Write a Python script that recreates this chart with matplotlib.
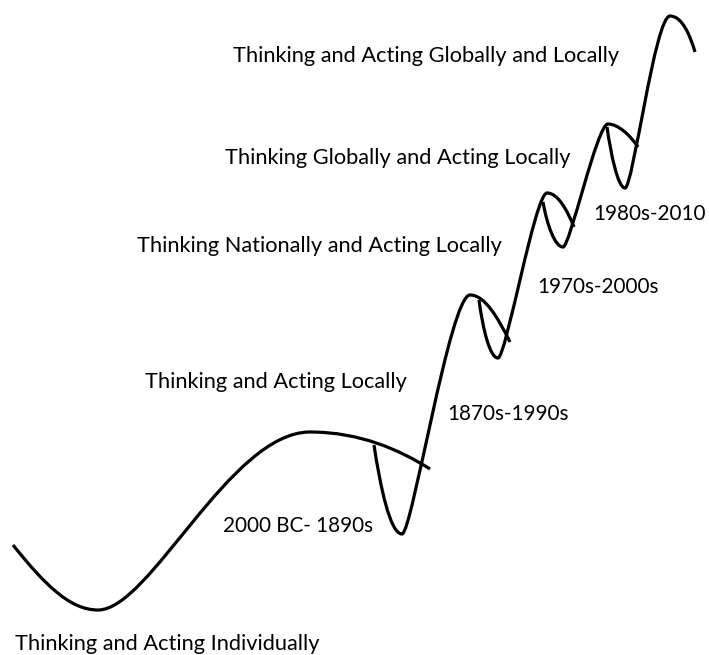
"""
Stages of thinking and acting: rising wave diagram
"""

import matplotlib.pyplot as plt
from matplotlib.path import Path
from matplotlib.patches import PathPatch

# ==================== Curve data (pixel space, y grows downward) ====================
# each curve: start point followed by cubic bezier triples (ctrl1, ctrl2, end)

curve_individual = [(13, 545),
                    (45, 585), (70, 610), (98, 610),
                    (150, 610), (230, 432), (310, 432),
                    (360, 432), (400, 450), (430, 469)]

curve_local = [(374, 445),
               (380, 485), (390, 534), (402, 534),
               (412, 534), (450, 295), (470, 295),
               (485, 295), (498, 318), (510, 342)]

curve_national = [(479, 300),
                  (483, 330), (490, 358), (498, 358),
                  (506, 358), (535, 193), (547, 193),
                  (558, 193), (567, 210), (574, 227)]

curve_global = [(543, 202),
                (547, 225), (555, 247), (563, 247),
                (570, 247), (597, 124), (608, 124),
                (618, 124), (630, 135), (638, 147)]

curve_global_local = [(607, 127),
                      (611, 155), (618, 188), (625, 188),
                      (633, 188), (655, 16), (670, 16),
                      (682, 16), (690, 35), (695, 52)]

curves = [curve_individual, curve_local, curve_national, curve_global, curve_global_local]

# stage labels and periods (left edge, baseline)
stage_labels = ["Thinking and Acting Individually",
                "Thinking and Acting Locally",
                "Thinking Nationally and Acting Locally",
                "Thinking Globally and Acting Locally",
                "Thinking and Acting Globally and Locally"]
stage_pos = [(15, 650), (145, 388), (137, 252), (225, 164), (233, 62)]

period_labels = ["2000 BC- 1890s", "1870s-1990s", "1970s-2000s", "1980s-2010"]
period_pos = [(223, 532), (447, 420), (537, 293), (593, 220)]

# ========================================================================================

plt.rcParams['font.family'] = ['Lato', 'DejaVu Sans']

fig = plt.figure(figsize=(7.09, 6.55), dpi=100)
ax = fig.add_axes([0, 0, 1, 1])
ax.set_xlim(0, 709)
ax.set_ylim(655, 0)
ax.axis("off")

for pts in curves:
    codes = [Path.MOVETO] + [Path.CURVE4] * (len(pts) - 1)
    patch = PathPatch(Path(pts, codes), facecolor="none", edgecolor="black",
                      linewidth=2.3, capstyle="butt")
    ax.add_patch(patch)

for txt, (x, y) in zip(stage_labels, stage_pos):
    ax.text(x, y, txt, fontsize=15.7, ha="left", va="baseline", color="black")

for txt, (x, y) in zip(period_labels, period_pos):
    ax.text(x, y, txt, fontsize=14.9, ha="left", va="baseline", color="black")

fig.savefig("out.png", dpi=100)
